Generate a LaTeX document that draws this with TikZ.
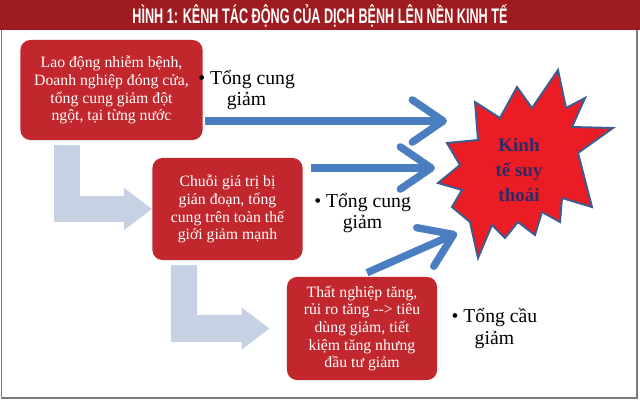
\documentclass[tikz,border=0pt]{standalone}
\usepackage{fontspec}
\setmainfont{Liberation Serif}
\newfontfamily\bannerfont{Liberation Sans}
\usetikzlibrary{arrows.meta,positioning}
\definecolor{bannerred}{HTML}{9E1B20}
\definecolor{boxred}{HTML}{C1272D}
\definecolor{starred}{HTML}{EC1C24}
\definecolor{staredge}{HTML}{3F5C8E}
\definecolor{starink}{HTML}{2B2A6B}
\definecolor{flowblue}{HTML}{4A7EC0}
\definecolor{stepblue}{HTML}{C6D2E4}
\definecolor{framegray}{HTML}{7A7A7A}

\begin{document}
\begin{tikzpicture}[x=0.025cm, y=-0.025cm,
    cause/.style={rounded corners=7pt, fill=boxred, text=white, align=center,
                  font=\fontsize{11.2}{12.6}\selectfont, inner sep=2pt},
    effect/.style={align=center, font=\fontsize{14}{15}\selectfont, inner sep=0pt},
    impact/.style={-{Straight Barb[length=22pt, width=30pt, round]}, line width=5.3pt, draw=flowblue},
    spill/.style={-{Triangle[length=0.7cm, width=1cm]}, line width=0.65cm, draw=stepblue}
  ]
  \useasboundingbox (0,0) rectangle (640,401);

  %%%%%%%%%%%%% Frame and banner %%%%%%%%%%%%%
  \draw[framegray, line width=1.4pt] (1.5,20) rectangle (637,398);
  \fill[bannerred] (0,0) rectangle (640,30);
  \node[text=white, font=\bannerfont\bfseries\fontsize{15}{15}\selectfont] (title) at (320,16)
    {\scalebox{0.6}[1]{HÌNH 1: KÊNH TÁC ĐỘNG CỦA DỊCH BỆNH LÊN NỀN KINH TẾ}};

  %%%%%%%%%%%%% Causes %%%%%%%%%%%%%
  \node[cause, minimum width=4.55cm, minimum height=2.5cm] (labour) at (111.5,90)
    {Lao động nhiễm bệnh,\\Doanh nghiệp đóng cửa,\\tổng cung giảm đột\\ngột, tại từng nước};
  \node[cause, minimum width=3.75cm, minimum height=2.55cm] (chain) at (227.5,209)
    {Chuỗi giá trị bị\\gián đoạn, tổng\\cung trên toàn thế\\giới giảm mạnh};
  \node[cause, minimum width=3.75cm, minimum height=2.575cm] (jobs) at (362,328.5)
    {Thất nghiệp tăng,\\rủi ro tăng -{}-{}> tiêu\\dùng giảm, tiết\\kiệm tăng nhưng\\đầu tư giảm};

  %%%%%%%%%%%%% Effects %%%%%%%%%%%%%
  \node[effect, right=-0.12cm of labour] (supply1) {• Tổng cung\\giảm};
  \node[effect, right=0.28cm of chain, yshift=-0.1cm] (supply2) {• Tổng cung\\giảm};
  \node[effect, right=0.35cm of jobs] (demand) {• Tổng cầu\\giảm};

  %%%%%%%%%%%%% Star %%%%%%%%%%%%%
  \draw[fill=starred, draw=staredge, line width=1.4pt]
    (558,70) -- (566,108) -- (585,98) -- (572,127) -- (613,128) -- (578,153)
    -- (592,207) -- (562,198) -- (560,222) -- (542,212) -- (535,235) -- (518,222)
    -- (505,238) -- (492,225) -- (478,258) -- (470,222) -- (452,207) -- (462,190)
    -- (438,183) -- (460,165) -- (447,143) -- (478,140) -- (475,102) -- (500,118)
    -- (517,87) -- (532,108) -- cycle;
  \node[text=starink, align=center, font=\fontsize{13.5}{18}\selectfont\bfseries] (slump) at (519,170)
    {Kinh\\tế suy\\thoái};
  \coordinate (hit1) at (447,121);
  \coordinate (hit2) at (435,168);
  \coordinate (hit3) at (457,233);

  %%%%%%%%%%%%% Spill-over between causes %%%%%%%%%%%%%
  \draw[spill] ([xshift=1.16cm, yshift=-0.125cm]labour.south west) |- (chain.west);
  \draw[spill, shorten >=0.425cm] ([xshift=0.8cm, yshift=-0.125cm]chain.south west) |- (jobs.west);

  %%%%%%%%%%%%% Causes -> slump %%%%%%%%%%%%%
  \draw[impact, shorten <=1.5pt] (hit1 -| labour.east) -- (hit1);
  \draw[impact, shorten <=5.7pt] (hit2 -| chain.east) -- (hit2);
  \draw[impact] ([xshift=0.125cm, yshift=0.1cm]jobs.north) -- (hit3);

\end{tikzpicture}
\end{document}
